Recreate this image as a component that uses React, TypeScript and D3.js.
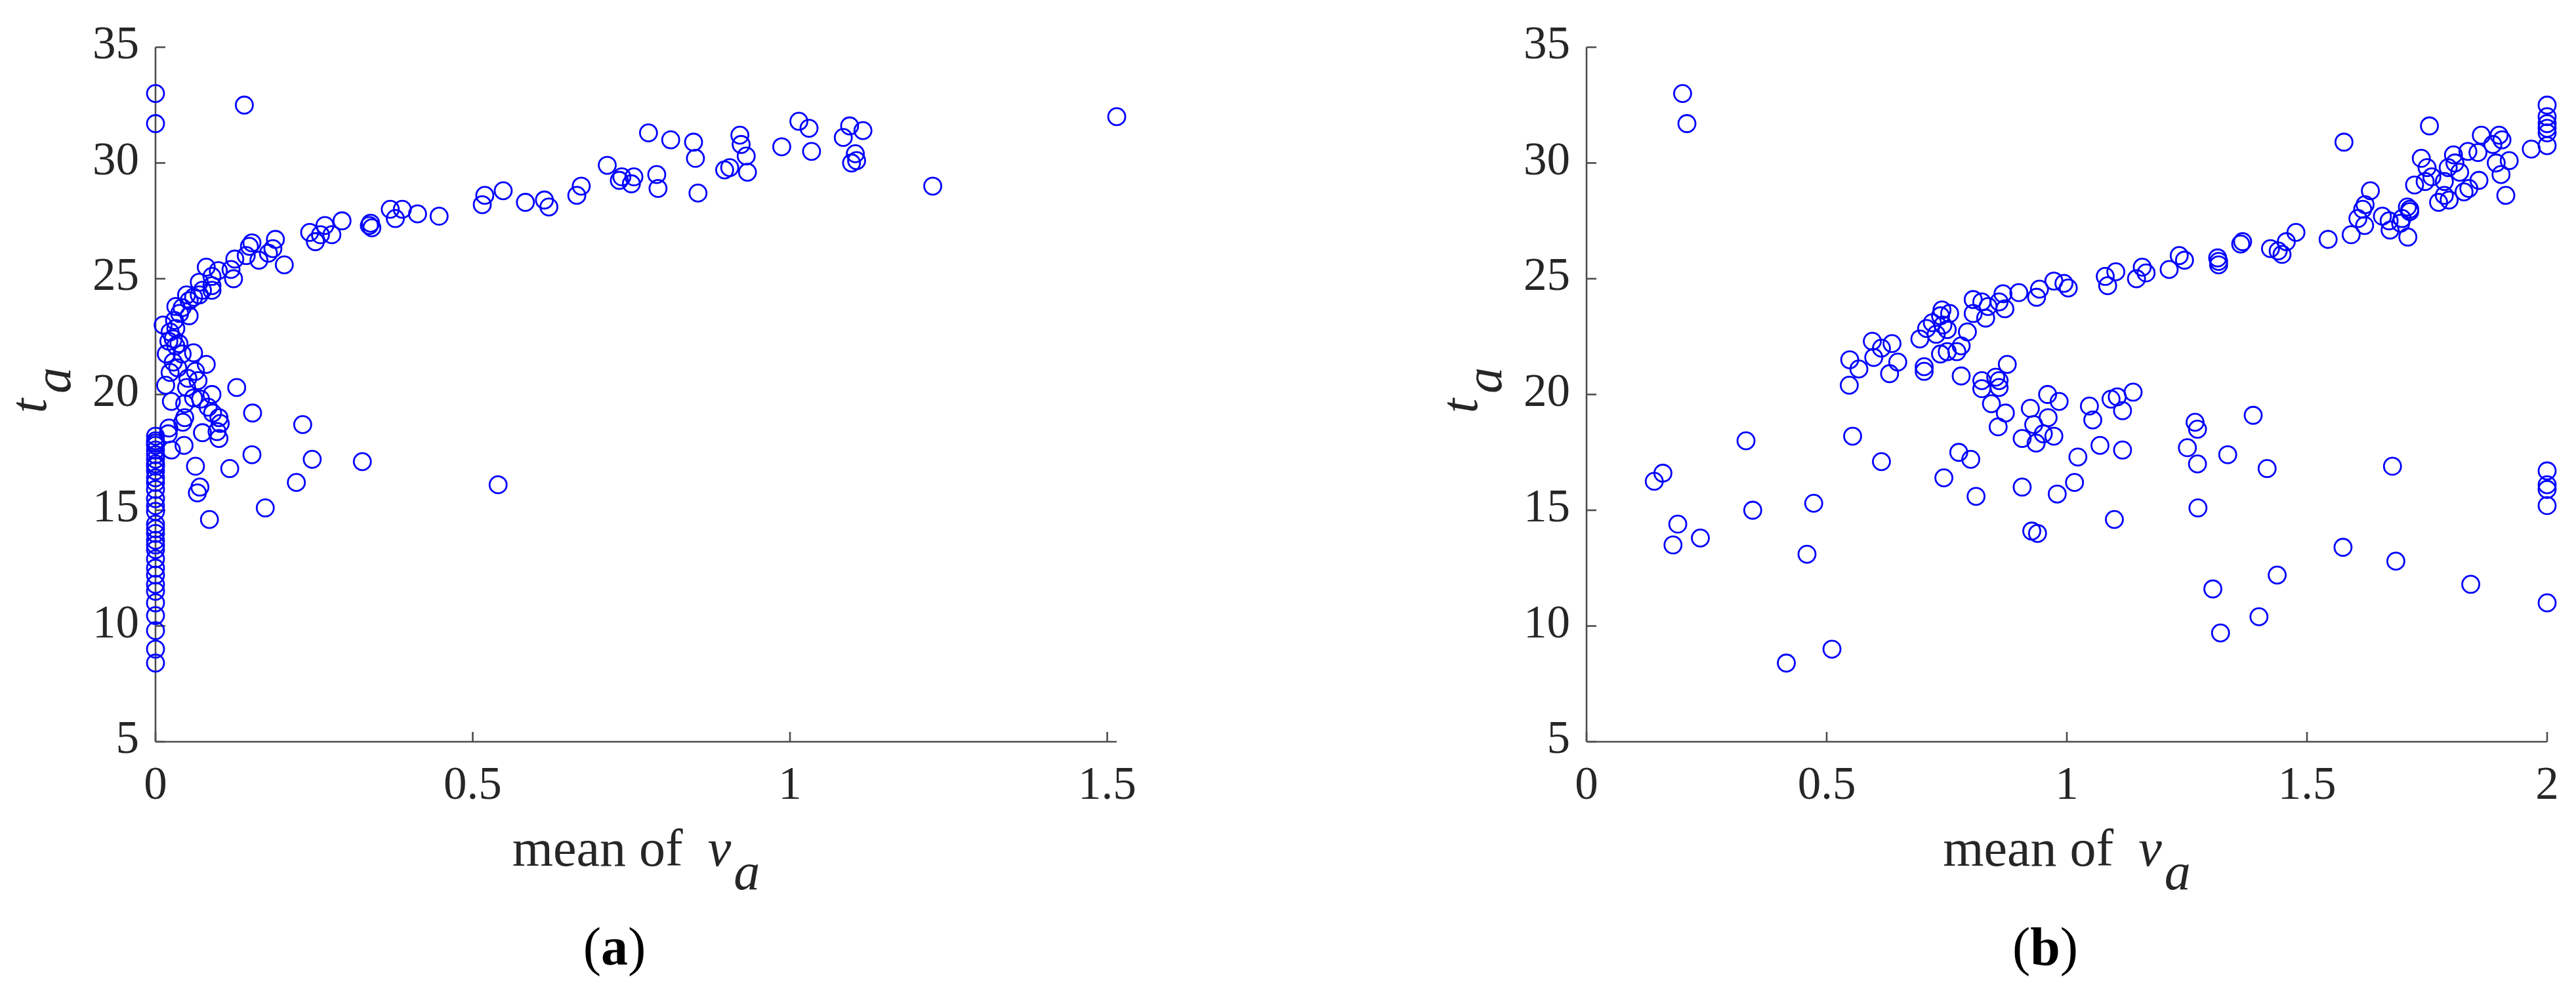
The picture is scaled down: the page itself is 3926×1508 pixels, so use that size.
import React from 'react';
import * as d3 from 'd3';

const W = 3926;
const H = 1508;

const yTicks = [5, 10, 15, 20, 25, 30, 35];
const aTicks = [0, 0.5, 1, 1.5];
const bTicks = [0, 0.5, 1, 1.5, 2];

// panel (a): t_a values sitting on mean of v_a = 0
const aColumn = [33.0, 31.7, 18.2, 18.0, 17.9, 17.8, 17.6, 17.4, 17.2, 17.0, 16.9, 16.7, 16.4, 16.2, 15.9, 15.5, 15.2,
  14.95, 14.4, 14.2, 14.0, 13.7, 13.5, 13.3, 12.9, 12.5, 12.2, 11.8, 11.5, 11.0, 10.45, 9.8, 9.0, 8.4];

// panel (a): [mean of v_a, t_a]
const aPoints: [number, number][] = [
  [0.14, 32.5],
  [0.777, 31.3], [0.812, 31.0], [0.848, 30.9], [0.851, 30.2], [0.855, 28.7], [0.792, 28.9], [0.79, 29.5],
  [0.754, 29.4], [0.75, 29.1], [0.731, 29.25], [0.735, 29.4], [0.712, 29.9], [0.671, 29.0], [0.664, 28.6],
  [0.897, 29.7], [0.905, 29.8], [0.921, 31.2], [0.923, 30.8], [0.931, 30.3], [0.933, 29.6], [0.987, 30.7],
  [1.014, 31.8], [1.03, 31.5], [1.034, 30.5], [1.084, 31.1], [1.094, 31.6], [1.103, 30.4], [1.097, 30.0],
  [1.105, 30.1], [1.115, 31.4], [1.225, 29.0], [1.515, 32.0],
  [0.613, 28.4], [0.62, 28.1], [0.583, 28.3], [0.548, 28.8], [0.519, 28.6], [0.515, 28.2], [0.447, 27.7],
  [0.413, 27.8], [0.389, 28.0], [0.378, 27.6], [0.37, 28.0], [0.339, 27.4], [0.341, 27.2], [0.337, 27.3],
  [0.294, 27.5], [0.278, 26.9], [0.267, 27.3], [0.26, 26.9], [0.252, 26.6], [0.243, 27.0], [0.189, 26.7],
  [0.185, 26.3], [0.178, 26.1], [0.203, 25.6], [0.163, 25.8], [0.152, 26.55], [0.148, 26.4], [0.143, 26.0],
  [0.125, 25.85], [0.123, 25.0], [0.119, 25.4], [0.099, 25.35], [0.08, 25.5], [0.089, 25.1], [0.089, 24.5],
  [0.089, 24.7], [0.069, 24.85], [0.069, 24.3], [0.074, 24.5], [0.06, 24.2], [0.053, 24.05], [0.053, 23.4],
  [0.049, 24.3], [0.042, 23.75], [0.032, 23.8], [0.038, 23.5], [0.03, 23.2], [0.012, 23.0], [0.023, 22.7],
  [0.032, 22.85], [0.028, 22.4], [0.037, 22.2], [0.032, 22.1], [0.021, 22.3], [0.042, 21.75], [0.06, 21.8],
  [0.017, 21.75], [0.028, 21.4], [0.023, 20.95], [0.035, 21.15], [0.08, 21.3], [0.063, 21.0], [0.067, 20.6],
  [0.051, 20.7], [0.016, 20.4], [0.025, 19.7], [0.049, 20.3], [0.06, 19.85], [0.046, 19.6], [0.089, 20.0],
  [0.071, 19.8], [0.083, 19.45], [0.09, 19.2], [0.1, 19.0], [0.102, 18.75], [0.097, 18.4], [0.1, 18.1],
  [0.074, 18.35], [0.046, 19.0], [0.043, 18.8], [0.021, 18.55], [0.02, 18.3], [0.025, 17.6], [0.045, 17.8],
  [0.128, 20.3], [0.153, 19.2], [0.232, 18.7], [0.152, 17.4], [0.247, 17.2], [0.326, 17.1], [0.063, 16.9],
  [0.117, 16.8], [0.222, 16.2], [0.07, 16.0], [0.066, 15.75], [0.173, 15.1], [0.085, 14.6], [0.54, 16.1],
];

// panel (b): [mean of v_a, t_a]
const bPoints: [number, number][] = [
  [0.2, 33.0], [0.209, 31.7], [0.141, 16.25], [0.159, 16.6], [0.19, 14.4], [0.18, 13.5], [0.237, 13.8],
  [0.332, 18.0], [0.346, 15.0], [0.473, 15.3], [0.459, 13.1], [0.416, 8.4], [0.511, 9.0], [0.554, 18.2],
  [0.614, 17.1], [0.548, 21.5], [0.547, 20.4], [0.567, 21.1], [0.595, 22.3], [0.598, 21.6], [0.614, 22.0],
  [0.636, 22.2], [0.631, 20.9], [0.648, 21.4], [0.703, 21.2], [0.703, 21.0], [0.694, 22.4], [0.708, 22.85],
  [0.72, 23.1], [0.737, 23.4], [0.74, 23.65], [0.728, 22.6], [0.742, 23.0], [0.751, 22.8], [0.756, 23.5],
  [0.737, 21.75], [0.751, 21.85], [0.771, 21.85], [0.78, 22.1], [0.793, 22.7], [0.805, 24.1], [0.805, 23.5],
  [0.823, 24.0], [0.831, 23.3], [0.836, 23.8], [0.859, 24.0], [0.867, 24.35], [0.871, 23.7], [0.9, 24.4],
  [0.937, 24.2], [0.943, 24.55], [0.973, 24.9], [0.994, 24.8], [1.003, 24.6], [1.08, 25.1], [1.085, 24.7],
  [1.102, 25.3], [1.145, 25.0], [1.157, 25.5], [1.165, 25.25], [1.213, 25.4], [1.234, 26.0], [1.245, 25.8],
  [1.314, 25.9], [1.316, 25.6], [1.316, 25.75], [1.362, 26.5], [1.366, 26.6], [1.424, 26.3], [1.44, 26.2],
  [1.448, 26.05], [1.457, 26.6], [1.477, 27.0], [1.544, 26.7], [1.577, 30.9], [1.592, 26.9], [1.606, 27.6],
  [1.616, 28.0], [1.62, 27.3], [1.621, 28.2], [1.632, 28.8], [1.657, 27.7], [1.671, 27.5], [1.673, 27.1],
  [1.695, 27.4], [1.698, 27.6], [1.709, 28.1], [1.71, 26.8], [1.714, 27.9], [1.714, 28.0], [1.724, 29.05],
  [1.738, 30.2], [1.746, 29.2], [1.75, 29.8], [1.755, 31.6], [1.76, 29.4], [1.774, 28.3], [1.786, 29.2],
  [1.786, 28.6], [1.794, 29.8], [1.796, 28.4], [1.805, 30.35], [1.808, 30.0], [1.818, 29.6], [1.827, 28.75],
  [1.835, 30.5], [1.837, 28.9], [1.856, 30.45], [1.858, 29.25], [1.863, 31.2], [1.887, 30.8], [1.894, 30.0],
  [1.9, 31.2], [1.906, 31.0], [1.904, 29.5], [1.914, 28.6], [1.921, 30.1], [1.967, 30.6],
  [2.0, 32.5], [2.0, 32.0], [2.0, 31.7], [2.0, 31.5], [2.0, 31.3], [2.0, 30.75],
  [2.0, 16.7], [2.0, 16.1], [2.0, 15.9], [2.0, 15.2], [2.0, 11.0],
  [0.78, 20.8], [0.823, 20.6], [0.823, 20.25], [0.843, 19.6], [0.852, 20.75], [0.859, 20.6], [0.859, 20.3],
  [0.876, 21.3], [0.872, 19.2], [0.857, 18.6], [0.775, 17.5], [0.8, 17.2], [0.744, 16.4], [0.811, 15.6],
  [0.907, 18.1], [0.907, 16.0], [0.924, 19.4], [0.931, 18.7], [0.936, 17.9], [0.927, 14.1], [0.939, 14.0],
  [0.951, 18.3], [0.96, 20.0], [0.961, 19.0], [0.973, 18.2], [0.984, 19.7], [0.98, 15.7], [1.016, 16.2],
  [1.023, 17.3], [1.047, 19.5], [1.054, 18.9], [1.069, 17.8], [1.092, 19.8], [1.105, 19.9], [1.116, 19.3],
  [1.116, 17.6], [1.138, 20.1], [1.099, 14.6], [1.251, 17.7], [1.267, 18.8], [1.272, 18.5], [1.272, 17.0],
  [1.273, 15.1], [1.304, 11.6], [1.32, 9.7], [1.335, 17.4], [1.388, 19.1], [1.4, 10.4], [1.417, 16.8],
  [1.438, 12.2], [1.575, 13.4], [1.678, 16.9], [1.685, 12.8], [1.841, 11.8],
];

const FONT = '"Liberation Serif", "Times New Roman", serif';
const AXIS = '#4d4d4d';
const TEXT = '#262626';

type PanelProps = {
  points: [number, number][];
  xMax: number;
  xTicks: number[];
  left: number;
  right: number;
  caption: string;
};

const Panel = ({ points, xMax, xTicks, left, right, caption }: PanelProps) => {
  const top = 72;
  const bottom = 1131;
  const x = d3.scaleLinear().domain([0, xMax]).range([left, right]);
  const y = d3.scaleLinear().domain([5, 35]).range([bottom, top]);
  const mid = (left + right) / 2;
  const tick = 15;

  return (
    <g>
      {/* axes, box off, ticks pointing in */}
      <line x1={left} x2={right} y1={bottom} y2={bottom} stroke={AXIS} strokeWidth={2.6} />
      <line x1={left} x2={left} y1={top} y2={bottom} stroke={AXIS} strokeWidth={2.6} />
      {xTicks.map(t => (
        <g key={'x' + t}>
          <line x1={x(t)} x2={x(t)} y1={bottom} y2={bottom - tick} stroke={AXIS} strokeWidth={2.6} />
          <text x={x(t)} y={bottom + 87} textAnchor="middle" fontSize={71} fill={TEXT}>{String(t)}</text>
        </g>
      ))}
      {yTicks.map(t => (
        <g key={'y' + t}>
          <line x1={left} x2={left + tick} y1={y(t)} y2={y(t)} stroke={AXIS} strokeWidth={2.6} />
          <text x={left - 25} y={y(t) + 17} textAnchor="end" fontSize={71} fill={TEXT}>{String(t)}</text>
        </g>
      ))}

      {points.map(([px, py], i) => (
        <circle key={i} cx={x(px)} cy={y(py)} r={13} fill="none" stroke="#0000ff" strokeWidth={2.8} />
      ))}

      <text x={mid} y={1320} textAnchor="middle" fontSize={80} fill={TEXT}>
        mean of
        <tspan dx={38} fontStyle="italic">v</tspan>
        <tspan dy={36} dx={4} fontStyle="italic">a</tspan>
      </text>

      <text transform={`translate(${left - 167},${595}) rotate(-90)`} textAnchor="middle" fontSize={80} fill={TEXT}>
        <tspan fontStyle="italic">t</tspan>
        <tspan dy={37} dx={8} fontStyle="italic">a</tspan>
      </text>

      <text x={mid - 33} y={1471} textAnchor="middle" fontSize={82} fill="#000">
        (<tspan fontWeight="bold">{caption}</tspan>)
      </text>
    </g>
  );
};

export default function App() {
  const aAll: [number, number][] = [...aColumn.map(v => [0, v] as [number, number]), ...aPoints];
  return (
    <svg
      width={W}
      height={H}
      viewBox={`0 0 ${W} ${H}`}
      style={{ position: 'absolute', left: 0, top: 0, background: '#fff', fontFamily: FONT }}
    >
      <rect width={W} height={H} fill="#fff" />
      <Panel points={aAll} xMax={1.515} xTicks={aTicks} left={237} right={1702} caption="a" />
      <Panel points={bPoints} xMax={2} xTicks={bTicks} left={2418} right={3882} caption="b" />
    </svg>
  );
}
